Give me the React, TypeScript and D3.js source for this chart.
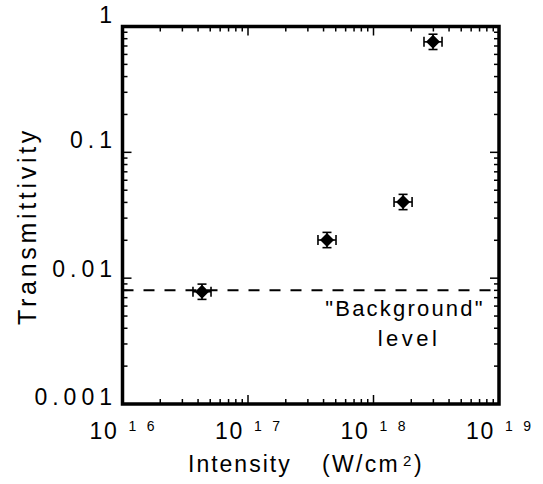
import React from "react";
import * as d3 from "d3";

const intensity = [4.3e16, 4.26e17, 1.72e18, 2.98e18];
const transmit = [0.0078, 0.0201, 0.0403, 0.755];
const xErrFactor = [1.18, 1.18, 1.18, 1.18];
const yErrFactor = [1.15, 1.15, 1.15, 1.15];
const backgroundLevel = 0.008;
const xDecades = [16, 17, 18, 19];
const yTickLabels = ["0.001", "0.01", "0.1", "1"];
const yTickValues = [0.001, 0.01, 0.1, 1];

export default function App() {
  const W = 543, H = 484;
  const L = 122.5, R = 499, T = 26.5, B = 404;
  const x = d3.scaleLog().domain([1e16, 1e19]).range([L, R]);
  const y = d3.scaleLog().domain([0.001, 1]).range([B, T]);
  const font = "'Liberation Sans', Arial, sans-serif";

  const xMinor: number[] = [];
  for (let e = 16; e < 19; e++) for (let m = 2; m <= 9; m++) xMinor.push(m * Math.pow(10, e));
  const yMinor: number[] = [];
  for (let e = -3; e < 0; e++) for (let m = 2; m <= 9; m++) yMinor.push(m * Math.pow(10, e));
  const xMajor = xDecades.map((d) => Math.pow(10, d));
  const yLabelDy = [1, -1, -4, -3.5];

  const maj = 9, mnr = 5;
  const dr = 7;
  const diamond = `M0,${-dr}L${dr},0L0,${dr}L${-dr},0Z`;

  return (
    <svg width={W} height={H} style={{ position: "absolute", left: 0, top: 0 }}>
      <rect width={W} height={H} fill="#fff" />
      <g stroke="#000" strokeWidth={1.5}>
        {xMajor.map((v, i) => (
          <g key={"xm" + i}>
            <line x1={x(v)} x2={x(v)} y1={B} y2={B - maj} />
            <line x1={x(v)} x2={x(v)} y1={T} y2={T + maj} />
          </g>
        ))}
        {xMinor.map((v, i) => (
          <g key={"xn" + i}>
            <line x1={x(v)} x2={x(v)} y1={B} y2={B - mnr} />
            <line x1={x(v)} x2={x(v)} y1={T} y2={T + mnr} />
          </g>
        ))}
        {yTickValues.map((v, i) => (
          <g key={"ym" + i}>
            <line x1={L} x2={L + maj} y1={y(v)} y2={y(v)} />
            <line x1={R} x2={R - maj} y1={y(v)} y2={y(v)} />
          </g>
        ))}
        {yMinor.map((v, i) => (
          <g key={"yn" + i}>
            <line x1={L} x2={L + mnr} y1={y(v)} y2={y(v)} />
            <line x1={R} x2={R - mnr} y1={y(v)} y2={y(v)} />
          </g>
        ))}
      </g>
      <rect x={L} y={T} width={R - L} height={B - T} fill="none" stroke="#000" strokeWidth={3.5} />
      <line x1={L} x2={R} y1={y(backgroundLevel)} y2={y(backgroundLevel)} stroke="#000" strokeWidth={2} strokeDasharray="11,10" />
      {intensity.map((v, i) => {
        const cx = x(v), cy = y(transmit[i]);
        const x0 = x(v / xErrFactor[i]), x1 = x(v * xErrFactor[i]);
        const y0 = y(transmit[i] * yErrFactor[i]), y1 = y(transmit[i] / yErrFactor[i]);
        return (
          <g key={"p" + i} stroke="#000" strokeWidth={1.6}>
            <line x1={x0} x2={x1} y1={cy} y2={cy} />
            <line x1={x0} x2={x0} y1={cy - 5} y2={cy + 5} />
            <line x1={x1} x2={x1} y1={cy - 5} y2={cy + 5} />
            <line x1={cx} x2={cx} y1={y0} y2={y1} />
            <line x1={cx - 4.5} x2={cx + 4.5} y1={y0} y2={y0} />
            <line x1={cx - 4.5} x2={cx + 4.5} y1={y1} y2={y1} />
            <path d={diamond} transform={`translate(${cx},${cy})`} fill="#000" stroke="none" />
          </g>
        );
      })}
      <g fontFamily={font} fill="#000">
        {xDecades.map((d, i) => {
          const cx = x(Math.pow(10, d));
          return (
            <g key={"xl" + i}>
              <text x={cx - 33} y={439} fontSize={23} letterSpacing={1.7}>10</text>
              <text x={cx + 6} y={431} fontSize={14} letterSpacing={10.5}>{String(d)}</text>
            </g>
          );
        })}
        {yTickLabels.map((t, i) => (
          <text key={"yl" + i} x={117} y={y(yTickValues[i]) + yLabelDy[i]} fontSize={23} textAnchor="end" letterSpacing={5}>
            {t}
          </text>
        ))}
      </g>
      <g fontFamily={font} fill="#000" fontSize={23}>
        <text x={188} y={472} letterSpacing={2}>Intensity</text>
        <text x={322} y={472} letterSpacing={2.3}>(W/cm</text>
        <text x={403} y={466} fontSize={15}>2</text>
        <text x={414} y={472}>)</text>
      </g>
      <text transform={`translate(36,226) rotate(-90)`} textAnchor="middle" fontFamily={font} fontSize={25} fill="#000" letterSpacing={3.7}>
        Transmittivity
      </text>
      <text x={405} y={316} textAnchor="middle" fontFamily={font} fontSize={22} fill="#000" letterSpacing={2.2}>
        "Background"
      </text>
      <text x={409} y={346} textAnchor="middle" fontFamily={font} fontSize={22} fill="#000" letterSpacing={3.5}>
        level
      </text>
    </svg>
  );
}
